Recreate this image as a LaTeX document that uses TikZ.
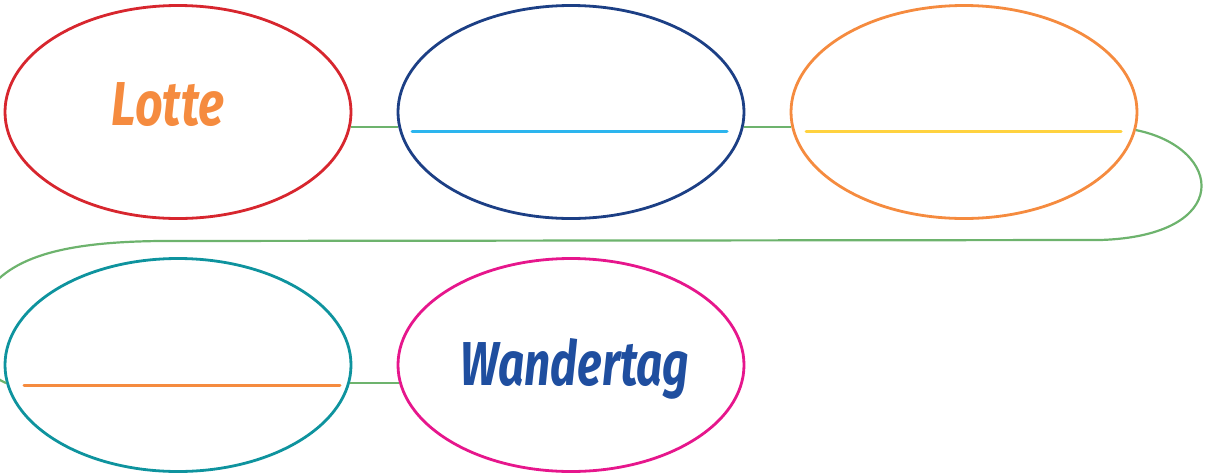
\documentclass[tikz,border=0pt]{standalone}
\usepackage{fontspec}
\usetikzlibrary{shapes.geometric,calc}
\newfontfamily\brushfont{Fira Sans}
\definecolor{cred}{HTML}{D7262E}
\definecolor{cnavy}{HTML}{1C3F85}
\definecolor{corange}{HTML}{F58B3F}
\definecolor{cteal}{HTML}{0E939E}
\definecolor{cpink}{HTML}{E6168C}
\definecolor{cgreen}{HTML}{6DB36D}
\definecolor{clblue}{HTML}{2CB5EE}
\definecolor{cyellow}{HTML}{FFD23F}
\definecolor{ctextblue}{HTML}{1F4E9F}
\tikzset{
  oval/.style={draw, ellipse, line width=2.8pt, minimum width=346pt, minimum height=213pt, inner sep=0pt},
  link/.style={draw=cgreen, line width=2.2pt},
  blank/.style={line width=3pt, line cap=round},
  brush/.style={font=\brushfont\bfseries\itshape\fontsize{62}{70}\selectfont, inner sep=0pt, anchor=base}
}
\begin{document}
\begin{tikzpicture}[x=1pt,y=-1pt]
\useasboundingbox (0,0) rectangle (1208,475);
\node[oval, draw=cred] (n1) at (178,112) {};
\node[oval, draw=cnavy] (n2) at (571,112) {};
\node[oval, draw=corange] (n3) at (964,112) {};
\node[oval, draw=cteal] (n4) at (178,365) {};
\node[oval, draw=cpink] (n5) at (571,365) {};
\coordinate (c1) at (1100,240);
\coordinate (c2) at (160,241);
\coordinate (c3) at (-18,300);
\draw[link] (n1.-5) -- (n2.185);
\draw[link] (n2.-5) -- (n3.185);
\draw[link] (n3.-6) .. controls (1224,148) and (1234,236) .. (c1)
  -- (c2) .. controls (60,242) and (5,258) .. (c3)
  .. controls (-30,340) and (-20,372) .. (n4.186);
\draw[link] (n4.-6) -- (n5.186);
\draw[blank, draw=clblue] ($(n2.center)+(-159,19)$) -- ($(n2.center)+(156,19)$);
\draw[blank, draw=cyellow] ($(n3.center)+(-158,19)$) -- ($(n3.center)+(157,19)$);
\draw[blank, draw=corange] ($(n4.center)+(-154,20)$) -- ($(n4.center)+(162,20)$);
\node[brush, text=corange] (t1) at (168,125) {\scalebox{0.78}[1]{Lotte}};
\node[brush, text=ctextblue] (t2) at (575,385) {\scalebox{0.74}[1]{Wandertag}};
\end{tikzpicture}
\end{document}
